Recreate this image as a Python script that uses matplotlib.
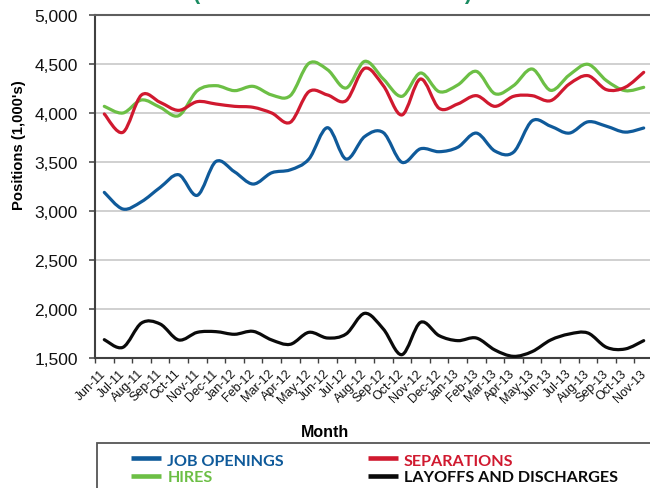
import matplotlib
matplotlib.use("Agg")
import matplotlib.pyplot as plt
from matplotlib.path import Path
from matplotlib.patches import PathPatch, Rectangle
from matplotlib.lines import Line2D

months = ["Jun-11", "Jul-11", "Aug-11", "Sep-11", "Oct-11", "Nov-11", "Dec-11",
          "Jan-12", "Feb-12", "Mar-12", "Apr-12", "May-12", "Jun-12", "Jul-12",
          "Aug-12", "Sep-12", "Oct-12", "Nov-12", "Dec-12", "Jan-13", "Feb-13",
          "Mar-13", "Apr-13", "May-13", "Jun-13", "Jul-13", "Aug-13", "Sep-13",
          "Oct-13", "Nov-13"]

job_openings = [3190, 3020, 3095, 3240, 3370, 3160, 3505, 3400, 3275, 3390,
                3420, 3530, 3850, 3530, 3760, 3800, 3497, 3635, 3605, 3650,
                3795, 3612, 3600, 3920, 3865, 3795, 3910, 3865, 3805, 3847]
hires = [4068, 4000, 4133, 4058, 3973, 4228, 4279, 4228, 4272, 4184,
         4177, 4507, 4442, 4255, 4527, 4347, 4170, 4408, 4218, 4286,
         4425, 4197, 4279, 4449, 4231, 4388, 4497, 4330, 4228, 4262]
separations = [3990, 3803, 4184, 4109, 4027, 4116, 4092, 4068, 4058, 4000,
               3905, 4218, 4184, 4126, 4456, 4279, 3980, 4347, 4048, 4092,
               4177, 4068, 4170, 4177, 4126, 4296, 4381, 4238, 4262, 4415]
layoffs = [1687, 1609, 1857, 1847, 1684, 1762, 1769, 1742, 1772, 1684,
           1640, 1762, 1704, 1745, 1956, 1796, 1534, 1864, 1728, 1677,
           1704, 1582, 1517, 1565, 1684, 1745, 1755, 1609, 1592, 1677]

y_ticks = [1500, 2000, 2500, 3000, 3500, 4000, 4500, 5000]
series_names = ["JOB OPENINGS", "HIRES", "SEPARATIONS", "LAYOFFS AND DISCHARGES"]
colors = ["#0f5a9a", "#6cbf45", "#d0192f", "#0a0a0a"]

plt.rcParams['font.family'] = ['Liberation Sans', 'DejaVu Sans']

W, H = 650, 489
fig = plt.figure(figsize=(W / 100, H / 100), dpi=100)
ax = fig.add_axes([95 / W, (H - 359) / H, 558 / W, 343 / H])


def smooth_path(xs, ys):
    n = len(xs)
    verts = [(xs[0], ys[0])]
    codes = [Path.MOVETO]
    for i in range(n - 1):
        a = i - 1 if i > 0 else i
        d = i + 2 if i + 2 < n else i + 1
        c1 = (xs[i] + (xs[i + 1] - xs[a]) / 6.0, ys[i] + (ys[i + 1] - ys[a]) / 6.0)
        c2 = (xs[i + 1] - (xs[d] - xs[i]) / 6.0, ys[i + 1] - (ys[d] - ys[i]) / 6.0)
        verts += [c1, c2, (xs[i + 1], ys[i + 1])]
        codes += [Path.CURVE4] * 3
    return Path(verts, codes)


xs = list(range(len(months)))
all_series = [job_openings, hires, separations, layoffs]
draw_order = [3, 0, 1, 2]
for k in draw_order:
    p = smooth_path(xs, all_series[k])
    ax.add_patch(PathPatch(p, fill=False, edgecolor=colors[k], lw=2.3,
                           capstyle='round', joinstyle='round', zorder=3 + k))

ax.set_xlim(-0.5, len(months) - 0.5)
ax.set_ylim(1500, 5000)

# y axis
ax.set_yticks(y_ticks)
ax.set_yticklabels([f"{v:,}" for v in y_ticks], fontsize=12.5)
ax.yaxis.grid(True, color="#c3c3c3", lw=1.1, zorder=0)
ax.set_axisbelow(True)
ax.tick_params(axis='y', direction='out', length=4.5, width=1.1, color="#404040",
               pad=8, labelcolor="#111111")

# x axis: ticks between categories, labels at centers
ax.set_xticks([i - 0.5 for i in range(len(months) + 1)])
ax.set_xticklabels([])
ax.set_xticks(xs, minor=True)
ax.set_xticklabels(months, minor=True, fontsize=9, rotation=45,
                   ha='right', va='center', rotation_mode='anchor')
ax.tick_params(axis='x', which='major', direction='out', length=3.3, width=1.0,
               color="#404040")
ax.tick_params(axis='x', which='minor', length=0, pad=9.5, labelcolor="#111111")

for s in ['left', 'bottom']:
    ax.spines[s].set_color("#404040")
    ax.spines[s].set_linewidth(1.5)
ax.spines['top'].set_color("#5e5e5e")
ax.spines['top'].set_linewidth(1.5)
ax.spines['right'].set_visible(False)

ax.set_ylabel("Positions (1,000's)", fontsize=10.7, fontweight='bold', va='center')
ax.yaxis.set_label_coords(-0.136, 0.624)

fig.text(324.7 / W, (H - 437.3) / H, "Month", fontsize=11.5, fontweight='bold',
         ha='center', va='baseline')

# partially visible title at the very top (cut off in the reference too)
fig.text(333 / W, 1 + 1.3 / H, "(SEASONALLY ADJUSTED)", fontsize=15.5,
         fontweight='bold', color="#1b8c62", ha='center', va='baseline')

# legend box
fig.patches.append(Rectangle((96.7 / W, -0.1), 1.0, (H - 444.3) / H + 0.1,
                             transform=fig.transFigure, fill=False,
                             edgecolor="#555555", lw=1.3, zorder=1))

leg_pos = [(130.7, 459.3, 167.3, 465.7),
           (130.7, 476.7, 167.3, 482.3),
           (368.0, 459.3, 404.0, 465.7),
           (368.0, 476.7, 404.0, 482.3)]
for (hx, hy, tx, ty), name, c in zip(leg_pos, series_names, colors):
    fig.lines.append(Line2D([hx / W, (hx + 30) / W], [(H - hy) / H, (H - hy) / H],
                            transform=fig.transFigure, color=c, lw=3.3,
                            solid_capstyle='butt'))
    fig.text(tx / W, (H - ty) / H, name, fontsize=11.6, fontweight='bold',
             family=['Lato', 'DejaVu Sans'], color=c, ha='left', va='baseline')

fig.savefig("out.png", dpi=100)
